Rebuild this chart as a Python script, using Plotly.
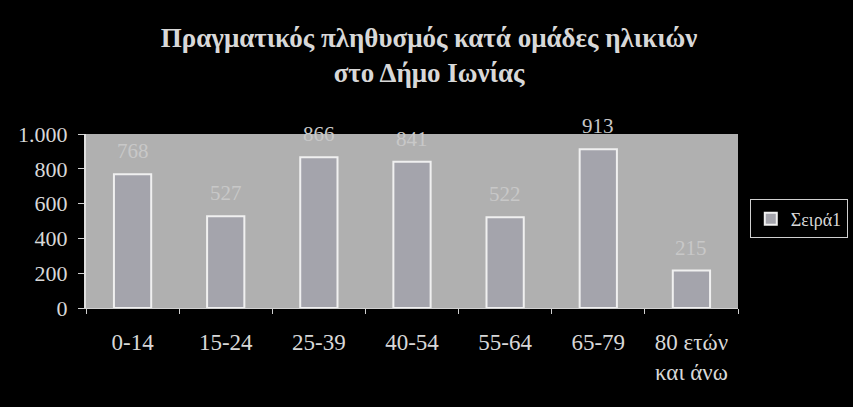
import plotly.graph_objects as go

# age groups and population values
age_groups = ["0-14", "15-24", "25-39", "40-54", "55-64", "65-79", "80 ετών<br>και άνω"]
population = [768, 527, 866, 841, 522, 913, 215]
y_ticks = [0, 200, 400, 600, 800, 1000]

title_text = "<b>Πραγματικός πληθυσμός κατά ομάδες ηλικιών<br>στο Δήμο Ιωνίας</b>"
series_name = "Σειρά1"

serif = "Liberation Serif, Times New Roman, serif"
text_col = "#d8d8d8"

fig = go.Figure()
fig.add_trace(go.Bar(
    x=age_groups,
    y=population,
    name=series_name,
    width=0.4,
    marker=dict(color="#a4a4ac", line=dict(color="#f0f0f0", width=2)),
    showlegend=True,
))

# value labels sit a bit above each bar, like the Excel original
for cat, val in zip(age_groups, population):
    fig.add_annotation(
        x=cat, y=val, text=str(val), showarrow=False,
        yanchor="middle", yshift=23,
        font=dict(family=serif, size=21, color="#c8c8c8"),
    )

fig.update_layout(
    width=853,
    height=407,
    paper_bgcolor="black",
    plot_bgcolor="#b0b0b0",
    separators=",.",
    margin=dict(l=86, r=115, t=134, b=99),
    title=dict(text=title_text, x=0.503, xref="container", y=0.885, yanchor="middle",
               font=dict(family=serif, size=27, color=text_col)),
    legend=dict(x=0.879, y=0.462, xref="container", yref="container",
                xanchor="left", yanchor="middle",
                bordercolor="#d0d0d0", borderwidth=1, bgcolor="black",
                itemwidth=30,
                font=dict(family=serif, size=18, color=text_col)),
    bargap=0.6,
)
fig.update_xaxes(
    showgrid=False, showline=True, linecolor="#d0d0d0", linewidth=1,
    ticks="outside", tickson="boundaries", tickcolor="#d0d0d0", ticklen=5,
    ticklabelstandoff=13,
    tickfont=dict(family=serif, size=23, color=text_col),
)
fig.update_yaxes(
    range=[0, 1000], tickvals=y_ticks, tickformat=",d",
    showgrid=False, showline=True, linecolor="#e0e0e0", linewidth=2,
    ticks="outside", tickcolor="#d0d0d0", ticklen=6, zeroline=False,
    ticklabelstandoff=6,
    tickfont=dict(family=serif, size=22, color=text_col),
)

fig.write_html(
    "out.html",
    config={"displayModeBar": False},
    post_script="document.body.style.margin='0';document.body.style.background='black';",
)
